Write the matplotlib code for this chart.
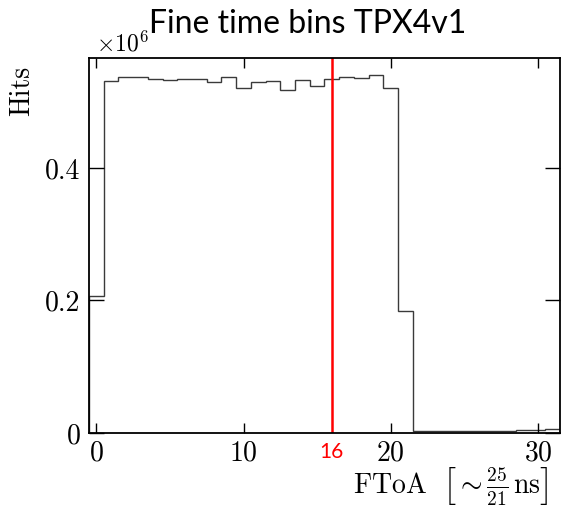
import matplotlib
matplotlib.use("Agg")
import matplotlib.pyplot as plt
import numpy as np
from matplotlib.ticker import FuncFormatter

# FToA fine time bins, counts per bin
bins = list(range(32))
hits = [206500, 532000, 538000, 538000, 535000, 533000, 535000, 534000,
        530000, 537000, 520000, 530000, 531000, 518000, 533000, 524000,
        535000, 537000, 536000, 541000, 521000, 184000, 2500, 2500,
        2500, 2500, 2500, 2500, 3000, 4500, 5000, 5500]
marker_bin = 16
x_ticks = [0, 10, 20, 30]
y_ticks = [0, 200000, 400000]

plt.rcParams['font.family'] = 'cmr10'
plt.rcParams['mathtext.fontset'] = 'cm'
plt.rcParams['axes.formatter.use_mathtext'] = True

fig = plt.figure(figsize=(5.61, 5.07), dpi=100)
ax = fig.add_axes([0.1586, 0.146, 0.8396, 0.7396])

edges = np.arange(len(bins) + 1) - 0.5
ax.stairs(hits, edges, color='#3a3a3a', linewidth=1.0)
ax.axvline(marker_bin, color='red', linewidth=1.8)

ax.set_xlim(-0.5, 31.5)
ax.set_ylim(0, 566000)
ax.set_xticks(x_ticks)
ax.set_yticks(y_ticks)
ax.yaxis.set_major_formatter(FuncFormatter(lambda v, p: '0' if v == 0 else f'{v/1e6:g}'))
ax.tick_params(axis='both', which='major', direction='in', top=True, right=True,
               labelsize=20, width=1.0)
ax.tick_params(axis='y', length=10.5, pad=6)
ax.tick_params(axis='x', length=7.5, pad=5)
for s in ax.spines.values():
    s.set_linewidth(1.3)

ax.text(0.015, 1.005, r'$\times10^{6}$', transform=ax.transAxes, fontsize=17,
        ha='left', va='bottom')

ax.set_ylabel('Hits', fontsize=20)
ax.yaxis.set_label_coords(-0.142, 0.98)
ax.yaxis.label.set_ha('right')
ax.yaxis.label.set_va('center')
ax.set_xlabel(r'$\mathrm{FToA}\ \ \left[\sim\frac{25}{21}\,\mathrm{ns}\right]$', fontsize=20)
ax.xaxis.set_label_coords(0.975, -0.085)
ax.xaxis.label.set_ha('right')

ax.text(marker_bin, -0.025, '16', transform=ax.get_xaxis_transform(),
        color='red', fontsize=15, family='Lato', ha='center', va='top')

fig.text(0.549, 0.952, 'Fine time bins TPX4v1', fontsize=23, family='Lato',
         ha='center', va='center')

fig.savefig('out.png', dpi=100)
